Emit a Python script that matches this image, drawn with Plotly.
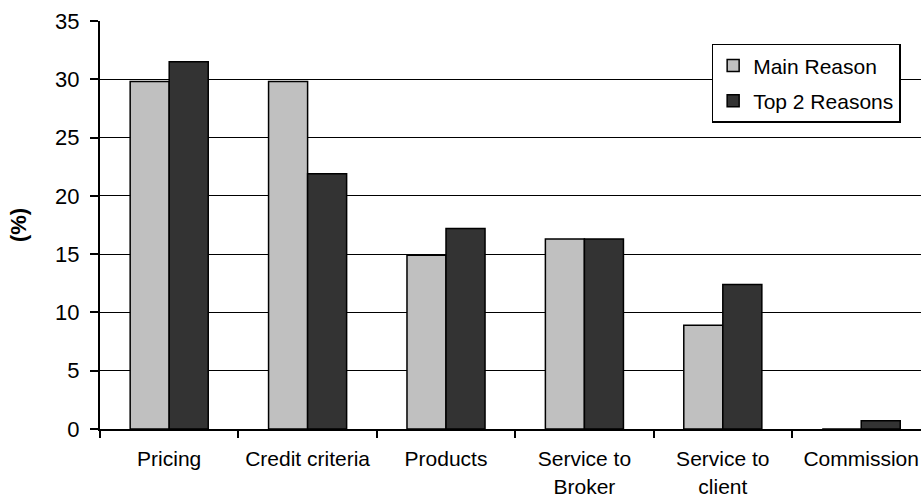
import plotly.graph_objects as go

# Reasons for choosing a lender (%)
categories = ["Pricing", "Credit criteria", "Products", "Service to Broker",
              "Service to client", "Commission"]
tick_labels = ["Pricing", "Credit criteria", "Products", "Service to<br>Broker",
               "Service to<br>client", "Commission"]
main_reason = [29.8, 29.8, 14.9, 16.3, 8.9, 0.0]
top2_reasons = [31.5, 21.9, 17.2, 16.3, 12.4, 0.7]

FONT = "Liberation Sans, Arial, sans-serif"
FS = 21

fig = go.Figure()
fig.add_trace(go.Bar(
    x=categories, y=main_reason, name="Main Reason", legendgroup="main",
    marker=dict(color="#c0c0c0", line=dict(color="black", width=1.5)),
))
fig.add_trace(go.Bar(
    x=categories, y=top2_reasons, name="Top 2 Reasons", legendgroup="top2",
    marker=dict(color="#333333", line=dict(color="black", width=1.5)),
))

fig.update_layout(
    width=921, height=500,
    margin=dict(l=100, r=0, t=21, b=71),
    paper_bgcolor="white", plot_bgcolor="white",
    font=dict(family=FONT, size=FS, color="black"),
    barmode="group", bargap=0.436, bargroupgap=0,
    showlegend=True,
    legend=dict(
        x=0.745, y=0.944, xanchor="left", yanchor="top",
        bgcolor="white", bordercolor="black", borderwidth=1.5,
        font=dict(family=FONT, size=FS, color="black"),
        itemwidth=30, tracegroupgap=5,
    ),
)

fig.update_xaxes(
    categoryorder="array", categoryarray=categories,
    tickmode="array", tickvals=categories, ticktext=tick_labels,
    range=[-0.5, 5.432],
    showline=True, linecolor="black", linewidth=2,
    ticks="outside", tickson="boundaries", ticklen=7, tickwidth=1.5,
    tickcolor="black", showgrid=False, ticklabelstandoff=10,
    tickfont=dict(family=FONT, size=FS, color="black"),
)

fig.update_yaxes(
    range=[0, 35], tickmode="linear", tick0=0, dtick=5,
    showline=True, linecolor="black", linewidth=2,
    ticks="outside", ticklen=8, tickwidth=1.5, tickcolor="black",
    showgrid=True, gridcolor="black", gridwidth=1.2,
    zeroline=False, ticklabelstandoff=6,
    tickfont=dict(family=FONT, size=22, color="black"),
    title=dict(text="<b>(%)</b>", standoff=22,
               font=dict(family=FONT, size=22, color="black")),
)

fig.write_html("out.html")
